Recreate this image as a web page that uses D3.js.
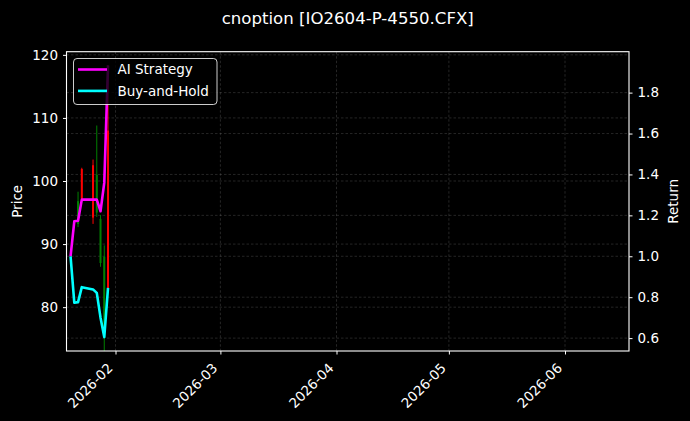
<!DOCTYPE html>
<html><head><meta charset="utf-8">
<script src="https://cdn.jsdelivr.net/npm/d3@7"></script>
<style>
html,body{margin:0;padding:0;background:#000;}
svg{display:block;}
text{font-family:"DejaVu Sans",sans-serif;fill:#fff;}
</style></head><body>
<svg id="c" width="690" height="421"></svg>
<script>
// ---- data ----
const TITLE = "cnoption [IO2604-P-4550.CFX]";
const candleDates = ["2026-01-22","2026-01-23","2026-01-26","2026-01-27","2026-01-28","2026-01-29","2026-01-30"];
const candleOpen  = [93.2, 101.9, 102.5, 95.0, 87.0, 76.0, 108.0];
const candleHigh  = [98.3, 102.1, 103.4, 108.8, 94.6, 89.8, 118.4];
const candleLow   = [92.7, 96.8, 93.2, 94.3, 86.4, 70.0, 82.5];
const candleClose = [96.8, 97.2, 94.2, 101.0, 94.0, 88.0, 82.9];

const lineDates  = ["2026-01-20","2026-01-21","2026-01-22","2026-01-23","2026-01-26","2026-01-27","2026-01-28","2026-01-29","2026-01-30"];
const aiStrategy = [1.000, 1.171, 1.174, 1.277, 1.277, 1.277, 1.220, 1.360, 1.933];
const buyHold    = [1.000, 0.773, 0.776, 0.849, 0.838, 0.821, 0.700, 0.605, 0.846];

const xTickDates   = ["2026-02-01","2026-03-01","2026-04-01","2026-05-01","2026-06-01"];
const priceTicks   = [80, 90, 100, 110, 120];
const returnTicks  = [0.6, 0.8, 1.0, 1.2, 1.4, 1.6, 1.8];
const seriesNames  = ["AI Strategy", "Buy-and-Hold"];

// ---- layout ----
const W = 690, H = 421;
const L = 66.5, R = 629, T = 51.7, B = 351;
const parse = d3.utcParse("%Y-%m-%d");
const xDomain = [new Date(Date.UTC(2026,0,18,22,0)), new Date(Date.UTC(2026,5,18,2,0))];
const x = d3.scaleUtc().domain(xDomain).range([L, R]);
const yP = d3.scaleLinear().domain([73.05, 120.5]).range([B, T]);
const yR = d3.scaleLinear().domain([0.537, 2.0]).range([B, T]);

const svg = d3.select("#c");
svg.append("rect").attr("width", W).attr("height", H).attr("fill", "#000");

svg.append("defs").append("clipPath").attr("id","clip")
  .append("rect").attr("x", L).attr("y", T).attr("width", R-L).attr("height", B-T);

// grid
const grid = svg.append("g").attr("stroke","#b0b0b0").attr("stroke-opacity",0.35)
  .attr("stroke-width",0.6).attr("stroke-dasharray","2.5,2");
xTickDates.map(parse).forEach(d => grid.append("line")
  .attr("x1", x(d)).attr("x2", x(d)).attr("y1", T).attr("y2", B));
priceTicks.forEach(v => grid.append("line")
  .attr("x1", L).attr("x2", R).attr("y1", yP(v)).attr("y2", yP(v)));
returnTicks.forEach(v => grid.append("line")
  .attr("x1", L).attr("x2", R).attr("y1", yR(v)).attr("y2", yR(v)));

// candles
const candles = candleDates.map((d,i) => ({d: parse(d), o: candleOpen[i], h: candleHigh[i], l: candleLow[i], c: candleClose[i]}));
const cg = svg.append("g").attr("clip-path","url(#clip)");
candles.forEach(k => {
  const col = k.c >= k.o ? "#008000" : "#ff0000";
  cg.append("line").attr("x1", x(k.d)).attr("x2", x(k.d))
    .attr("y1", yP(k.h)).attr("y2", yP(k.l)).attr("stroke", col).attr("stroke-width", 1);
  const bw = 2;
  cg.append("rect").attr("x", x(k.d) - bw/2).attr("width", bw)
    .attr("y", yP(Math.max(k.o,k.c))).attr("height", Math.max(0.5, Math.abs(yP(k.o)-yP(k.c))))
    .attr("fill", col);
});

// lines
const pts = lineDates.map(parse);
const line = d3.line().x((d,i) => x(pts[i])).y(d => yR(d));
const lg = svg.append("g").attr("clip-path","url(#clip)");
lg.append("path").datum(aiStrategy).attr("d", line).attr("fill","none")
  .attr("stroke","#ff00ff").attr("stroke-width",2.6).attr("stroke-linejoin","round");
lg.append("path").datum(buyHold).attr("d", line).attr("fill","none")
  .attr("stroke","#00ffff").attr("stroke-width",2.6).attr("stroke-linejoin","round");

// axes
const fs = 13.5;
const xAxis = d3.axisBottom(x).tickValues(xTickDates.map(parse)).tickFormat(d3.utcFormat("%Y-%m")).tickSize(3.5).tickPadding(3.5);
const gx = svg.append("g").attr("transform",`translate(0,${B})`).call(xAxis);
gx.select(".domain").remove();
gx.selectAll("line").attr("stroke","#fff");
gx.selectAll("text").attr("font-size", fs).attr("fill","#fff")
  .attr("text-anchor","end").attr("dy", null).attr("y", null)
  .attr("transform", "translate(-2.5,18) rotate(-45)");

const gl = svg.append("g").attr("transform",`translate(${L},0)`)
  .call(d3.axisLeft(yP).tickValues(priceTicks).tickFormat(d3.format("d")).tickSize(3.5).tickPadding(5));
gl.select(".domain").remove();
gl.selectAll("line").attr("stroke","#fff");
gl.selectAll("text").attr("font-size", fs).attr("fill","#fff");

const gr = svg.append("g").attr("transform",`translate(${R},0)`)
  .call(d3.axisRight(yR).tickValues(returnTicks).tickFormat(d3.format(".1f")).tickSize(3.5).tickPadding(5));
gr.select(".domain").remove();
gr.selectAll("line").attr("stroke","#fff");
gr.selectAll("text").attr("font-size", fs).attr("fill","#fff");

// spines
svg.append("rect").attr("x", L).attr("y", T).attr("width", R-L).attr("height", B-T)
  .attr("fill","none").attr("stroke","#fff").attr("stroke-width",1.1);

// labels
svg.append("text").attr("x", (L+R)/2).attr("y", 24).attr("text-anchor","middle")
  .attr("font-size", 16.6).text(TITLE);
svg.append("text").attr("transform",`translate(17,${(T+B)/2}) rotate(-90)`)
  .attr("text-anchor","middle").attr("dy","0.35em").attr("font-size", fs).text("Price");
svg.append("text").attr("transform",`translate(673,${(T+B)/2}) rotate(-90)`)
  .attr("text-anchor","middle").attr("dy","0.35em").attr("font-size", fs).text("Return");

// legend
const lgX = 73.5, lgY = 58.5, lgW = 143.5, lgH = 46;
const leg = svg.append("g");
leg.append("rect").attr("x", lgX).attr("y", lgY).attr("width", lgW).attr("height", lgH)
  .attr("rx", 3.5).attr("fill", "#000").attr("fill-opacity", 0.8)
  .attr("stroke", "#fff").attr("stroke-opacity", 0.8).attr("stroke-width", 1);
const legColors = ["#ff00ff", "#00ffff"];
seriesNames.forEach((n,i) => {
  const cy = lgY + 11 + i*21.4;
  leg.append("line").attr("x1", lgX+4.5).attr("x2", lgX+33.5).attr("y1", cy).attr("y2", cy)
    .attr("stroke", legColors[i]).attr("stroke-width", 2.6);
  leg.append("text").attr("x", lgX+44).attr("y", cy).attr("dy","0.36em")
    .attr("font-size", fs).text(n);
});
</script>
</body></html>
